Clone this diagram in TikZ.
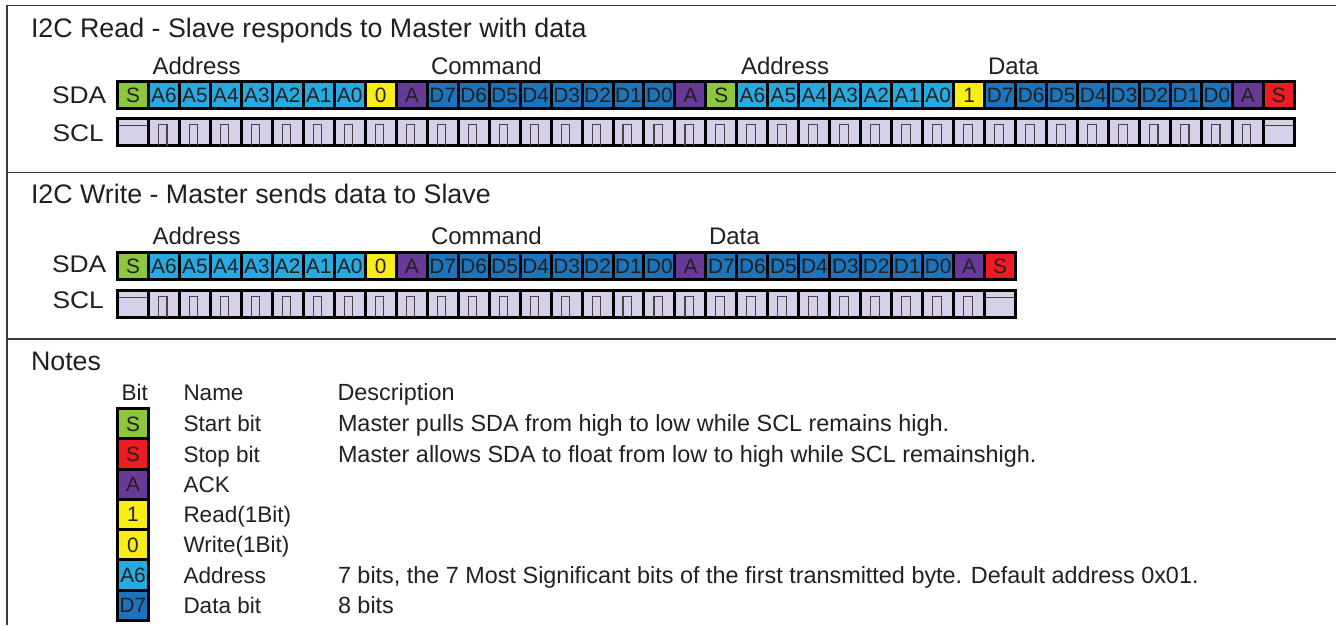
\documentclass[tikz,border=0pt]{standalone}
\usepackage{fontspec}
\setmainfont{Liberation Sans}
\definecolor{cst}{HTML}{8DC63F}
\definecolor{cad}{HTML}{27AAE1}
\definecolor{cdt}{HTML}{1C75BC}
\definecolor{crw}{HTML}{F9ED17}
\definecolor{cak}{HTML}{683A97}
\definecolor{csp}{HTML}{ED1C24}
\definecolor{clav}{HTML}{D5D0E7}
\definecolor{ink}{HTML}{231F20}
\definecolor{framec}{HTML}{3D3838}
\definecolor{pulsec}{HTML}{4A4242}
\newcommand{\sdarow}[3]{%
  \foreach \cc/\tt [count=\i from 0] in {#3} {
    \node[bitcell, fill=c\cc, anchor=west] (#1\i) at (117.5+30.97*\i, #2) {\tt};
  }%
}
\newcommand{\sclrow}[3]{%
  \pgfmathtruncatemacro\lastc{#3-1}%
  \pgfmathtruncatemacro\prelast{#3-2}%
  \foreach \i in {0,...,\lastc} {
    \node[sclcell, anchor=west] (#1\i) at (117.5+30.97*\i, #2) {};
  }%
  \draw[sclline] ([xshift=1.5pt,yshift=-7pt]#10.north west) -- ([xshift=-1.5pt,yshift=-7pt]#10.north east);
  \draw[sclline] ([xshift=1.5pt,yshift=-7pt]#1\lastc.north west) -- ([xshift=-1.5pt,yshift=-7pt]#1\lastc.north east);
  \foreach \i in {1,...,\prelast} {
    \draw[sclline] ([xshift=10pt]#1\i.south west) -- ([xshift=10pt,yshift=-6pt]#1\i.north west)
      -- ([xshift=18.5pt,yshift=-6pt]#1\i.north west) -- ([xshift=18.5pt]#1\i.south west);
  }%
}
\newcommand{\wide}[1]{\scalebox{1.1}[1]{#1}}
\begin{document}
\begin{tikzpicture}[x=1pt,y=-1pt,
  every node/.style={text=ink, inner sep=0pt, outer sep=0pt},
  bitcell/.style={draw=black, line width=3pt, minimum width=30.97pt, minimum height=27pt,
    font=\fontsize{20.8}{24}\selectfont, text height=14.9pt, text depth=0pt},
  sclcell/.style={draw=black, line width=3pt, fill=clav, minimum width=30.97pt, minimum height=27pt},
  legcell/.style={draw=black, line width=3pt, minimum width=31pt, minimum height=30.29pt,
    font=\fontsize{20.8}{24}\selectfont, text height=14.9pt, text depth=0pt},
  sclline/.style={draw=pulsec, line width=1.1pt},
  frameline/.style={draw=framec, line width=1.8pt},
  title/.style={font=\fontsize{26.8}{30}\selectfont, anchor=base west},
  lbl/.style={font=\fontsize{24}{28}\selectfont, anchor=base west},
  tname/.style={font=\fontsize{22.5}{26}\selectfont, anchor=base west},
  tdesc/.style={font=\fontsize{23.4}{26}\selectfont, anchor=base west}]
\useasboundingbox (0,0) rectangle (1336,625);
\fill[white] (0,0) rectangle (1336,625);
% frame
\draw[frameline] (7,625) -- (7,5.5) -- (1336,5.5);
\draw[frameline] (7,172.5) -- (1336,172.5);
\draw[frameline] (7,338.7) -- (1336,338.7);

% ---------- Read ----------
\node[title] (rtitle) at (31,37.3) {I2C Read - Slave responds to Master with data};
\node[lbl] (raddr1) at (152.5,74) {Address};
\node[lbl] (rcmd) at (431,74) {Command};
\node[lbl] (raddr2) at (741,74) {Address};
\node[lbl] (rdata) at (988,74) {Data};
\node[lbl] (rsda) at (52,103) {\wide{SDA}};
\node[lbl] (rscl) at (52.5,141) {\wide{SCL}};
\sdarow{rs}{95}{st/S,ad/A6,ad/A5,ad/A4,ad/A3,ad/A2,ad/A1,ad/A0,rw/0,ak/A,dt/D7,dt/D6,dt/D5,dt/D4,dt/D3,dt/D2,dt/D1,dt/D0,ak/A,st/S,ad/A6,ad/A5,ad/A4,ad/A3,ad/A2,ad/A1,ad/A0,rw/1,dt/D7,dt/D6,dt/D5,dt/D4,dt/D3,dt/D2,dt/D1,dt/D0,ak/A,sp/S}
\sclrow{rc}{132}{38}

% ---------- Write ----------
\node[title] (wtitle) at (31,203.3) {I2C Write - Master sends data to Slave};
\node[lbl] (waddr) at (152.5,244) {Address};
\node[lbl] (wcmd) at (431,244) {Command};
\node[lbl] (wdata) at (709,244) {Data};
\node[lbl] (wsda) at (52,272) {\wide{SDA}};
\node[lbl] (wscl) at (52.5,308.5) {\wide{SCL}};
\sdarow{ws}{266}{st/S,ad/A6,ad/A5,ad/A4,ad/A3,ad/A2,ad/A1,ad/A0,rw/0,ak/A,dt/D7,dt/D6,dt/D5,dt/D4,dt/D3,dt/D2,dt/D1,dt/D0,ak/A,dt/D7,dt/D6,dt/D5,dt/D4,dt/D3,dt/D2,dt/D1,dt/D0,ak/A,sp/S}
\sclrow{wc}{303.7}{29}

% ---------- Notes ----------
\node[title] (notes) at (31,370.7) {Notes};
\node[tname] (hbit) at (121.5,400.7) {Bit};
\node[tname] (hname) at (183.5,400.7) {Name};
\node[tdesc] (hdesc) at (337.5,400.7) {Description};
\foreach \cc/\tt/\nm/\ds [count=\i from 0] in {
  st/S/Start bit/Master pulls SDA from high to low while SCL remains high.,
  sp/S/Stop bit/Master allows SDA to float from low to high while SCL remainshigh.,
  ak/A/ACK/,
  rw/1/Read(1Bit)/,
  rw/0/Write(1Bit)/,
  ad/A6/Address/{7 bits, the 7 Most Significant bits of the first transmitted byte. Default address 0x01.},
  dt/D7/Data bit/8 bits} {
  \node[legcell, fill=c\cc] (leg\i) at (133, 423.65+30.29*\i) {\tt};
  \node[tname] (nm\i) at (183.5, 431.7+30.29*\i) {\nm};
  \node[tdesc] (ds\i) at (338, 431.7+30.29*\i) {\ds};
}
\end{tikzpicture}
\end{document}
